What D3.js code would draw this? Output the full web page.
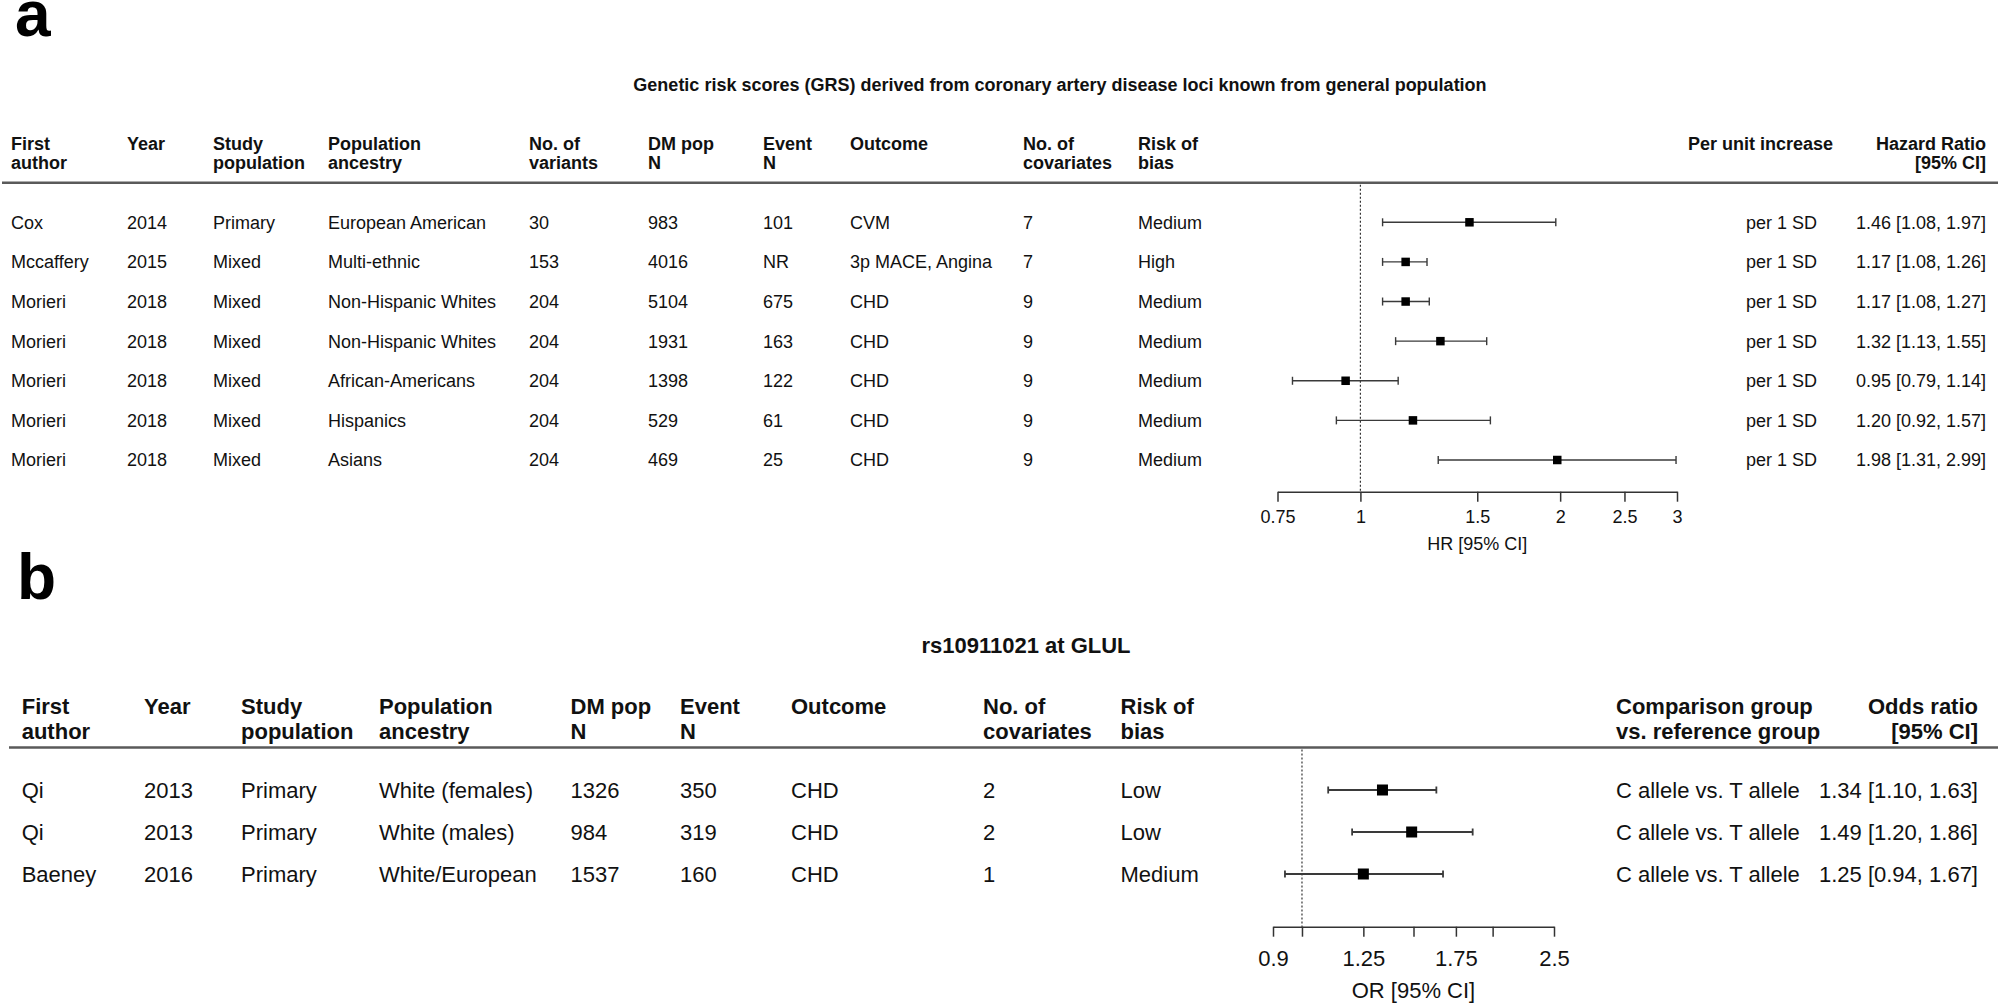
<!DOCTYPE html>
<html>
<head>
<meta charset="utf-8">
<script src="https://cdn.jsdelivr.net/npm/d3@7"></script>
<style>
  html, body { margin: 0; padding: 0; background: #fff; }
  svg { display: block; }
  text { font-family: "Liberation Sans", Arial, Helvetica, sans-serif; fill: #111; }
</style>
</head>
<body>
<script>
// ---------------- Panel a data ----------------
const authorsA    = ["Cox", "Mccaffery", "Morieri", "Morieri", "Morieri", "Morieri", "Morieri"];
const yearsA      = [2014, 2015, 2018, 2018, 2018, 2018, 2018];
const studyA      = ["Primary", "Mixed", "Mixed", "Mixed", "Mixed", "Mixed", "Mixed"];
const ancestryA   = ["European American", "Multi-ethnic", "Non-Hispanic Whites", "Non-Hispanic Whites", "African-Americans", "Hispanics", "Asians"];
const variantsA   = [30, 153, 204, 204, 204, 204, 204];
const dmPopA      = [983, 4016, 5104, 1931, 1398, 529, 469];
const eventsA     = ["101", "NR", "675", "163", "122", "61", "25"];
const outcomeA    = ["CVM", "3p MACE, Angina", "CHD", "CHD", "CHD", "CHD", "CHD"];
const covariatesA = [7, 7, 9, 9, 9, 9, 9];
const biasA       = ["Medium", "High", "Medium", "Medium", "Medium", "Medium", "Medium"];
const unitA       = ["per 1 SD", "per 1 SD", "per 1 SD", "per 1 SD", "per 1 SD", "per 1 SD", "per 1 SD"];
const estA        = [1.46, 1.17, 1.17, 1.32, 0.95, 1.20, 1.98];
const loA         = [1.08, 1.08, 1.08, 1.13, 0.79, 0.92, 1.31];
const hiA         = [1.97, 1.26, 1.27, 1.55, 1.14, 1.57, 2.99];
const ticksA      = [0.75, 1, 1.5, 2, 2.5, 3];
const tickLabelsA = ["0.75", "1", "1.5", "2", "2.5", "3"];
const titleA      = "Genetic risk scores (GRS) derived from coronary artery disease loci known from general population";

// ---------------- Panel b data ----------------
const authorsB    = ["Qi", "Qi", "Baeney"];
const yearsB      = [2013, 2013, 2016];
const studyB      = ["Primary", "Primary", "Primary"];
const ancestryB   = ["White (females)", "White (males)", "White/European"];
const dmPopB      = [1326, 984, 1537];
const eventsB     = ["350", "319", "160"];
const outcomeB    = ["CHD", "CHD", "CHD"];
const covariatesB = [2, 2, 1];
const biasB       = ["Low", "Low", "Medium"];
const comparisonB = ["C allele vs. T allele", "C allele vs. T allele", "C allele vs. T allele"];
const estB        = [1.34, 1.49, 1.25];
const loB         = [1.10, 1.20, 0.94];
const hiB         = [1.63, 1.86, 1.67];
const ticksB      = [0.9, 1, 1.25, 1.5, 1.75, 2, 2.5];
const tickLabelsB = ["0.9", "", "1.25", "", "1.75", "", "2.5"];
const titleB      = "rs10911021 at GLUL";

const W = 2000, H = 1006;
const svg = d3.select("body").append("svg").attr("width", W).attr("height", H);
svg.append("rect").attr("width", W).attr("height", H).attr("fill", "#fff");

const fmt = d3.format(".2f");

function drawPanel(cfg) {
  const g = svg.append("g");
  const fs = cfg.fontSize;

  // panel letter
  g.append("text").attr("x", cfg.letterX).attr("y", cfg.letterY)
    .attr("font-size", 64).attr("font-weight", "bold").style("fill", "#000").text(cfg.letter);

  // title
  g.append("text").attr("x", cfg.titleX).attr("y", cfg.titleY).attr("dy", "0.36em")
    .attr("text-anchor", "middle").attr("font-size", cfg.titleSize).attr("font-weight", "bold")
    .text(cfg.title);

  // headers
  cfg.headers.forEach(h => {
    h.lines.forEach((ln, i) => {
      g.append("text")
        .attr("x", h.x).attr("y", cfg.headerY[i]).attr("dy", "0.36em")
        .attr("text-anchor", h.anchor || "start")
        .attr("font-size", fs).attr("font-weight", "bold").text(ln);
    });
  });

  // rule
  g.append("line").attr("x1", cfg.ruleX1).attr("x2", cfg.ruleX2)
    .attr("y1", cfg.ruleY).attr("y2", cfg.ruleY)
    .attr("stroke", "#5a5a5a").attr("stroke-width", 2.5);

  // row scale
  const n = cfg.est.length;
  const y = d3.scaleLinear().domain([0, n - 1]).range(cfg.rowRange);

  // table columns
  cfg.columns.forEach(col => {
    g.selectAll(null).data(col.values).enter().append("text")
      .attr("x", col.x).attr("y", (d, i) => y(i)).attr("dy", "0.36em")
      .attr("text-anchor", col.anchor || "start")
      .attr("font-size", fs).text(d => d);
  });

  // estimate text
  g.selectAll(null).data(cfg.est).enter().append("text")
    .attr("x", cfg.estX).attr("y", (d, i) => y(i)).attr("dy", "0.36em")
    .attr("text-anchor", "end").attr("font-size", fs)
    .text((d, i) => `${fmt(d)} [${fmt(cfg.lo[i])}, ${fmt(cfg.hi[i])}]`);

  // x scale (log)
  const x = d3.scaleLog().domain([cfg.ticks[0], cfg.ticks[cfg.ticks.length - 1]]).range(cfg.xRange);

  // reference line at 1
  g.append("line").attr("x1", x(1)).attr("x2", x(1))
    .attr("y1", cfg.ruleY + 2).attr("y2", cfg.axisY)
    .attr("stroke", "#333").attr("stroke-width", 1.2).attr("stroke-dasharray", "2,2");

  // CI lines
  const cap = cfg.capH;
  const rows = g.selectAll(null).data(cfg.est).enter().append("g");
  rows.append("line")
    .attr("x1", (d, i) => x(cfg.lo[i])).attr("x2", (d, i) => x(cfg.hi[i]))
    .attr("y1", (d, i) => y(i)).attr("y2", (d, i) => y(i))
    .attr("stroke", "#3a3a3a").attr("stroke-width", cfg.ciW);
  rows.append("line")
    .attr("x1", (d, i) => x(cfg.lo[i])).attr("x2", (d, i) => x(cfg.lo[i]))
    .attr("y1", (d, i) => y(i) - cap).attr("y2", (d, i) => y(i) + cap)
    .attr("stroke", "#3a3a3a").attr("stroke-width", cfg.ciW);
  rows.append("line")
    .attr("x1", (d, i) => x(cfg.hi[i])).attr("x2", (d, i) => x(cfg.hi[i]))
    .attr("y1", (d, i) => y(i) - cap).attr("y2", (d, i) => y(i) + cap)
    .attr("stroke", "#3a3a3a").attr("stroke-width", cfg.ciW);
  rows.append("rect")
    .attr("x", d => x(d) - cfg.sq / 2).attr("y", (d, i) => y(i) - cfg.sq / 2)
    .attr("width", cfg.sq).attr("height", cfg.sq).attr("fill", "#000");

  // axis
  const axis = d3.axisBottom(x).tickValues(cfg.ticks)
    .tickFormat((d, i) => cfg.tickLabels[i]).tickSize(10).tickSizeOuter(0);
  const ag = g.append("g").attr("transform", `translate(0,${cfg.axisY})`).call(axis);
  ag.select(".domain").attr("stroke", "#333").attr("stroke-width", 1.5);
  ag.selectAll(".tick line").attr("stroke", "#333").attr("stroke-width", 1.5);
  ag.selectAll(".tick text").attr("y", cfg.tickLabelDy).attr("dy", "0.36em")
    .attr("font-size", fs).attr("font-family", "Liberation Sans, Arial, sans-serif").style("fill", "#111");

  g.append("text").attr("x", (cfg.xRange[0] + cfg.xRange[1]) / 2).attr("y", cfg.xLabelY).attr("dy", "0.36em")
    .attr("text-anchor", "middle").attr("font-size", fs).text(cfg.xLabel);
}

// ---------------- Panel a ----------------
drawPanel({
  letter: "a", letterX: 15, letterY: 36,
  title: titleA, titleX: 1060, titleY: 85, titleSize: 18,
  fontSize: 18,
  headerY: [143.5, 163],
  headers: [
    { x: 11,   lines: ["First", "author"] },
    { x: 127,  lines: ["Year"] },
    { x: 213,  lines: ["Study", "population"] },
    { x: 328,  lines: ["Population", "ancestry"] },
    { x: 529,  lines: ["No. of", "variants"] },
    { x: 648,  lines: ["DM pop", "N"] },
    { x: 763,  lines: ["Event", "N"] },
    { x: 850,  lines: ["Outcome"] },
    { x: 1023, lines: ["No. of", "covariates"] },
    { x: 1138, lines: ["Risk of", "bias"] },
    { x: 1833, lines: ["Per unit increase"], anchor: "end" },
    { x: 1986, lines: ["Hazard Ratio", "[95% CI]"], anchor: "end" }
  ],
  ruleX1: 2, ruleX2: 1998, ruleY: 182.7,
  rowRange: [222.3, 460],
  columns: [
    { x: 11,   values: authorsA },
    { x: 127,  values: yearsA },
    { x: 213,  values: studyA },
    { x: 328,  values: ancestryA },
    { x: 529,  values: variantsA },
    { x: 648,  values: dmPopA },
    { x: 763,  values: eventsA },
    { x: 850,  values: outcomeA },
    { x: 1023, values: covariatesA },
    { x: 1138, values: biasA },
    { x: 1817, values: unitA, anchor: "end" }
  ],
  est: estA, lo: loA, hi: hiA, estX: 1986,
  ticks: ticksA, tickLabels: tickLabelsA,
  xRange: [1277.5, 1677],
  axisY: 491.7, tickLabelDy: 25, xLabelY: 543.3, xLabel: "HR [95% CI]",
  sq: 8.5, capH: 4, ciW: 1.4
});

// ---------------- Panel b ----------------
drawPanel({
  letter: "b", letterX: 17, letterY: 599,
  title: titleB, titleX: 1026, titleY: 645, titleSize: 22,
  fontSize: 22,
  headerY: [706, 731],
  headers: [
    { x: 21.7, lines: ["First", "author"] },
    { x: 144,  lines: ["Year"] },
    { x: 241,  lines: ["Study", "population"] },
    { x: 379,  lines: ["Population", "ancestry"] },
    { x: 570.5, lines: ["DM pop", "N"] },
    { x: 680,  lines: ["Event", "N"] },
    { x: 791,  lines: ["Outcome"] },
    { x: 983,  lines: ["No. of", "covariates"] },
    { x: 1120.5, lines: ["Risk of", "bias"] },
    { x: 1616, lines: ["Comparison group", "vs. reference group"] },
    { x: 1978, lines: ["Odds ratio", "[95% CI]"], anchor: "end" }
  ],
  ruleX1: 9, ruleX2: 1998, ruleY: 747.5,
  rowRange: [790, 874],
  columns: [
    { x: 21.7, values: authorsB },
    { x: 144,  values: yearsB },
    { x: 241,  values: studyB },
    { x: 379,  values: ancestryB },
    { x: 570.5, values: dmPopB },
    { x: 680,  values: eventsB },
    { x: 791,  values: outcomeB },
    { x: 983,  values: covariatesB },
    { x: 1120.5, values: biasB },
    { x: 1616, values: comparisonB }
  ],
  est: estB, lo: loB, hi: hiB, estX: 1978,
  ticks: ticksB, tickLabels: tickLabelsB,
  xRange: [1273, 1554],
  axisY: 926.7, tickLabelDy: 31.3, xLabelY: 990, xLabel: "OR [95% CI]",
  sq: 11, capH: 3.5, ciW: 1.8
});
</script>
</body>
</html>
